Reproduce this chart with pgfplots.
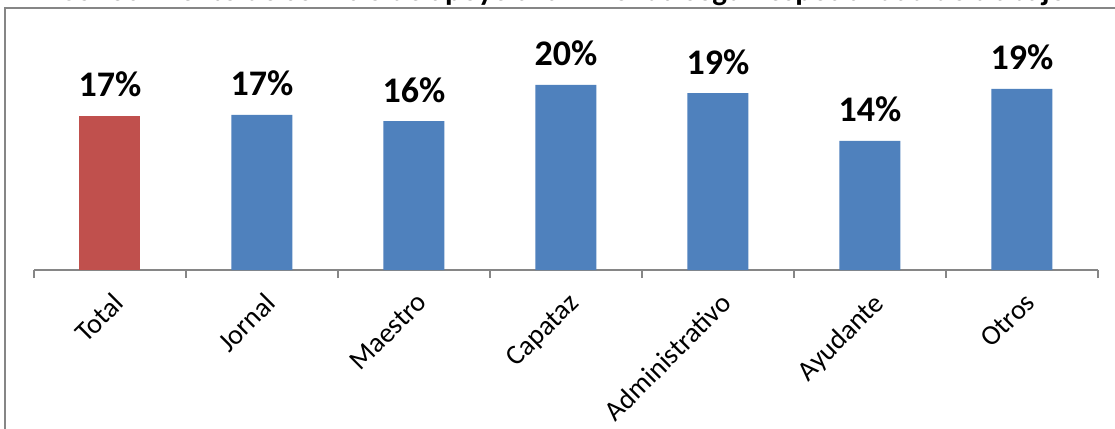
\documentclass[border=0pt]{standalone}
\usepackage{pgfplots}
\pgfplotsset{compat=1.18}
\usepackage{fontspec}
\setmainfont{Carlito}
\definecolor{barblue}{HTML}{4F81BD}
\definecolor{barred}{HTML}{C0504D}
\definecolor{framegray}{HTML}{868686}
\begin{document}
\begin{tikzpicture}[x=1pt,y=1pt]
\useasboundingbox (0,0) rectangle (1115,428);
\clip (0,0) rectangle (1115,428);
\node[anchor=base, font=\bfseries\fontsize{31}{34}\selectfont, inner sep=0] at (563,427) {Conocimiento de servicio de apoyo a la vivienda según especialidad de trabajo};
\fill[white] (0,0) rectangle (1115,419);
\draw[framegray, line width=1.5pt] (5,-10) rectangle (1125,420);
\begin{axis}[
  at={(34pt,158pt)}, anchor=south west,
  scale only axis, width=1064pt, height=230pt,
  xmin=-0.5, xmax=6.5, ymin=0, ymax=24.76,
  hide y axis, axis x line*=bottom,
  axis line style={framegray, line width=1.5pt, -},
  xtick={0,...,6},
  xticklabels={Total,Jornal,Maestro,Capataz,Administrativo,Ayudante,Otros},
  major tick length=0pt,
  minor xtick={-0.5,0.5,...,6.5}, minor tick length=8pt,
  tick align=outside,
  tick style={framegray, line width=1.5pt},
  ytick=\empty,
  xticklabel style={rotate=45, anchor=north east, font=\fontsize{28}{30}\selectfont, inner sep=2pt, yshift=-14pt, xshift=-12pt},
  ybar, bar width=61pt, clip=false,
  point meta=y,
  nodes near coords={\pgfmathprintnumber[fixed,precision=0,assume math mode=true]{\pgfplotspointmeta}\%},
  nodes near coords style={font=\bfseries\fontsize{36}{38}\selectfont, anchor=base, yshift=19pt, text=black},
]
\addplot[fill=barred, draw=none, bar shift=0pt] coordinates {(0,16.6)};
\addplot[fill=barblue, draw=none, bar shift=0pt] coordinates {(1,16.7) (2,16.04) (3,19.92) (4,19.05) (5,13.9) (6,19.49)};
\end{axis}
\end{tikzpicture}
\end{document}
